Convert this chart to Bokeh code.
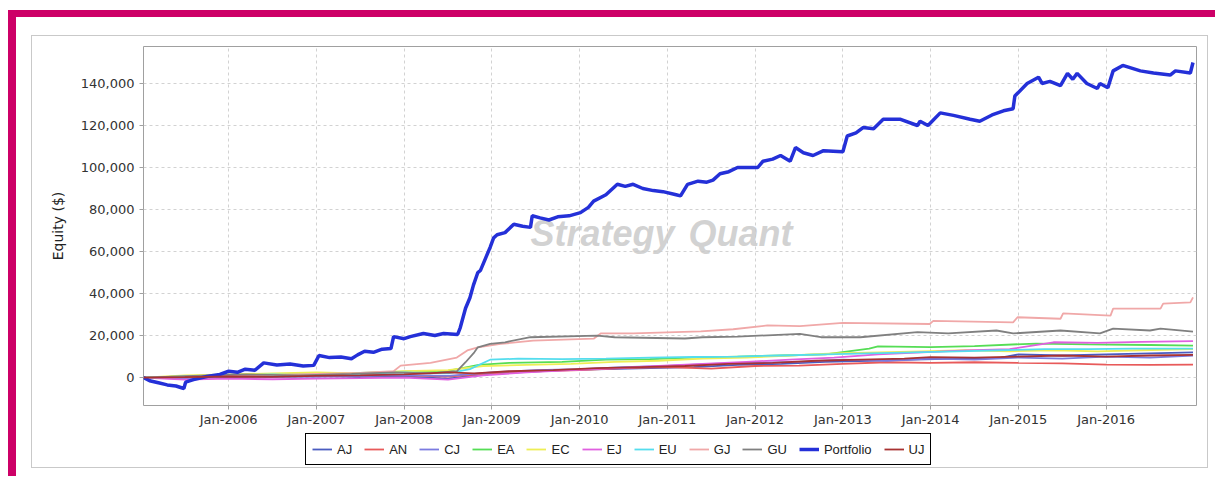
from bokeh.plotting import figure
from bokeh.models import Range1d, FixedTicker, NumeralTickFormatter, Legend, LegendItem, Label
from bokeh.layouts import column
from bokeh.embed import file_html
from bokeh.resources import INLINE

# ---------------- data ----------------
x_tick_years = [2006, 2007, 2008, 2009, 2010, 2011, 2012, 2013, 2014, 2015, 2016]
x_tick_labels = ["Jan-2006", "Jan-2007", "Jan-2008", "Jan-2009", "Jan-2010", "Jan-2011",
                 "Jan-2012", "Jan-2013", "Jan-2014", "Jan-2015", "Jan-2016"]
y_ticks = [0, 20000, 40000, 60000, 80000, 100000, 120000, 140000]

series_names = ["AJ", "AN", "CJ", "EA", "EC", "EJ", "EU", "GJ", "GU", "Portfolio", "UJ"]

years_AJ = [2005.03, 2005.5, 2006.0, 2006.5, 2007.0, 2007.5, 2008.0, 2008.5, 2008.9, 2009.3, 2009.8,
            2010.3, 2010.8, 2011.3, 2011.8, 2012.3, 2012.8, 2013.3, 2013.8, 2014.3, 2014.8, 2015.0,
            2015.5, 2016.0, 2016.5, 2016.99]
equity_AJ = [0, 500, 1000, 500, 800, 200, 500, -500, 1500, 2500, 3500,
             4000, 4500, 5000, 6000, 6500, 7500, 8000, 8500, 9000, 9500, 11000,
             10500, 11000, 11500, 12000]

years_AN = [2005.03, 2005.5, 2006.0, 2006.5, 2007.0, 2007.5, 2008.0, 2008.5, 2009.0, 2009.5, 2010.0,
            2010.5, 2011.0, 2011.5, 2012.0, 2012.5, 2013.0, 2013.5, 2014.0, 2014.5, 2015.0, 2015.5,
            2016.0, 2016.5, 2016.99]
equity_AN = [0, 300, 500, 800, 1000, 1200, 1000, 500, 2000, 3000, 3500,
             4500, 5000, 4300, 5500, 5700, 6500, 7300, 7000, 7300, 7000, 6800,
             6200, 6000, 6200]

years_CJ = [2005.03, 2005.5, 2006.0, 2006.5, 2007.0, 2007.5, 2008.0, 2008.5, 2009.0, 2009.5, 2010.0,
            2010.5, 2011.0, 2011.5, 2012.0, 2012.5, 2013.0, 2013.5, 2014.0, 2014.5, 2015.0, 2015.5,
            2016.0, 2016.5, 2016.99]
equity_CJ = [0, -500, 200, 500, 300, 800, 1200, 800, 2500, 3500, 4000,
             5000, 5500, 6500, 7000, 7500, 8500, 8000, 9000, 8500, 9500, 9000,
             10000, 9500, 10500]

years_EA = [2005.03, 2005.5, 2006.0, 2006.5, 2007.0, 2007.5, 2008.0, 2008.5, 2008.85, 2009.2, 2009.8,
            2010.3, 2010.8, 2011.3, 2011.8, 2012.3, 2012.8, 2013.3, 2013.4, 2014.0, 2014.5, 2015.2,
            2015.8, 2016.5, 2016.99]
equity_EA = [0, 500, 1200, 1800, 1500, 2200, 2800, 3200, 6000, 7000, 7500,
             8500, 8800, 9500, 10000, 10500, 11000, 13800, 14800, 14500, 15000, 16200,
             15800, 15500, 15200]

years_EC = [2005.03, 2005.5, 2006.0, 2006.5, 2007.0, 2007.5, 2008.0, 2008.5, 2008.9, 2009.4, 2009.9,
            2010.4, 2010.9, 2011.4, 2011.9, 2012.4, 2012.9, 2013.4, 2013.9, 2014.4, 2014.9, 2015.4,
            2015.9, 2016.4, 2016.99]
equity_EC = [0, 1000, 1500, 2000, 2500, 2000, 3000, 3500, 5500, 6000, 6500,
             7500, 8000, 9000, 9500, 10500, 11500, 12000, 12500, 13000, 12500, 13000,
             12500, 13000, 13500]

years_EJ = [2005.03, 2005.5, 2006.0, 2006.5, 2007.0, 2007.5, 2008.0, 2008.5, 2008.9, 2009.4, 2009.9,
            2010.4, 2010.9, 2011.4, 2011.9, 2012.4, 2012.9, 2013.4, 2013.9, 2014.4, 2014.9, 2015.4,
            2015.9, 2016.4, 2016.99]
equity_EJ = [0, -1000, -500, -800, -500, -300, 0, -1000, 1000, 2500, 3500,
             4500, 5500, 6500, 7500, 8500, 9500, 11000, 12000, 12900, 13500, 16800,
             16500, 17000, 17300]

years_EU = [2005.03, 2005.5, 2006.0, 2006.5, 2007.0, 2007.5, 2008.0, 2008.5, 2008.75, 2008.98, 2009.3,
            2009.8, 2010.3, 2010.8, 2011.3, 2011.8, 2012.3, 2012.8, 2013.3, 2013.8, 2014.3, 2014.8,
            2015.3, 2015.8, 2016.3, 2016.99]
equity_EU = [0, 500, 1000, 1500, 1000, 1800, 2500, 2000, 4000, 8500, 9000,
             8800, 9000, 9500, 9800, 10000, 10500, 11000, 11500, 12000, 12500, 13000,
             13500, 13500, 13800, 13800]

years_GJ = [2005.03, 2005.5, 2006.0, 2006.5, 2007.0, 2007.5, 2007.88, 2007.96, 2008.3, 2008.6, 2008.72,
            2008.84, 2009.10, 2009.47, 2010.16, 2010.24, 2010.61, 2011.38, 2011.75, 2012.14, 2012.51,
            2013.00, 2013.99, 2014.03, 2014.94, 2014.99, 2015.48, 2015.51, 2016.05, 2016.08, 2016.62,
            2016.65, 2016.96, 2016.99]
equity_GJ = [0, 300, 800, 1200, 1800, 2200, 3000, 5700, 7000, 9500, 12900,
             14400, 16000, 17600, 18500, 21000, 21000, 22000, 23000, 24800, 24500,
             26000, 25500, 27000, 26300, 28700, 28000, 30600, 29500, 32800, 32800,
             35200, 35800, 38200]

years_GU = [2005.03, 2005.6, 2006.2, 2006.8, 2007.4, 2007.9, 2008.3, 2008.6, 2008.70, 2008.80, 2008.84,
            2008.98, 2009.15, 2009.44, 2010.20, 2010.40, 2011.20, 2011.40, 2011.80, 2012.51, 2012.75,
            2013.20, 2013.85, 2014.20, 2014.75, 2014.94, 2015.48, 2015.93, 2016.08, 2016.50, 2016.62,
            2016.99]
equity_GU = [0, 800, 1500, 1000, 1800, 2500, 2000, 3000, 7300, 12000, 14400,
             16000, 16800, 19200, 20000, 19200, 18600, 19200, 19500, 20800, 19200,
             19200, 21600, 21000, 22400, 21000, 22400, 21000, 23300, 22400, 23300,
             21900]

years_Portfolio = [2005.03, 2005.10, 2005.20, 2005.30, 2005.40, 2005.49, 2005.51, 2005.60, 2005.75, 2005.90,
                   2006.00, 2006.10, 2006.19, 2006.30, 2006.40, 2006.55, 2006.70, 2006.85, 2006.97, 2007.03,
                   2007.15, 2007.28, 2007.40, 2007.47, 2007.55, 2007.65, 2007.75, 2007.85, 2007.88, 2008.00,
                   2008.07, 2008.22, 2008.35, 2008.45, 2008.61, 2008.64, 2008.70, 2008.75, 2008.79, 2008.84,
                   2008.87, 2008.93, 2008.98, 2009.02, 2009.06, 2009.15, 2009.25, 2009.35, 2009.44, 2009.46,
                   2009.55, 2009.65, 2009.75, 2009.88, 2010.01, 2010.10, 2010.16, 2010.30, 2010.43, 2010.52,
                   2010.61, 2010.72, 2010.84, 2010.95, 2011.10, 2011.15, 2011.23, 2011.35, 2011.45, 2011.52,
                   2011.60, 2011.70, 2011.80, 2012.03, 2012.09, 2012.20, 2012.29, 2012.40, 2012.46, 2012.55,
                   2012.66, 2012.78, 2013.00, 2013.05, 2013.15, 2013.23, 2013.35, 2013.46, 2013.65, 2013.85,
                   2013.88, 2013.97, 2014.11, 2014.26, 2014.45, 2014.56, 2014.70, 2014.83, 2014.94, 2014.96,
                   2015.10, 2015.23, 2015.27, 2015.36, 2015.48, 2015.56, 2015.62, 2015.67, 2015.78, 2015.90,
                   2015.93, 2016.02, 2016.08, 2016.19, 2016.39, 2016.54, 2016.73, 2016.79, 2016.96, 2016.99]
equity_Portfolio = [0, -1500, -2500, -3500, -4000, -5200, -2200, -1000, 500, 1500,
                    3000, 2500, 4000, 3500, 7000, 6000, 6500, 5500, 5800, 10500,
                    9500, 9800, 9000, 10800, 12500, 12000, 13500, 13800, 19500, 18500,
                    19500, 21000, 20000, 21000, 20500, 23800, 33000, 38000, 44000, 50000,
                    51000, 57000, 62000, 66500, 68000, 69000, 73000, 72000, 71500, 77000,
                    76000, 75000, 76500, 77000, 78500, 81000, 84000, 87000, 92000, 91000,
                    92000, 90000, 89000, 88500, 87000, 86500, 92000, 93500, 93000, 94000,
                    97000, 98000, 100000, 100000, 103000, 104000, 105700, 103000, 109500, 107000,
                    105700, 108000, 107500, 115000, 116500, 119000, 118500, 123000, 123000, 120000,
                    122000, 120000, 126000, 124800, 123000, 122000, 125000, 127000, 128000, 134000,
                    140000, 143000, 140000, 141000, 139000, 144800, 142000, 144800, 140000, 137600,
                    140000, 138000, 146000, 148600, 146000, 145000, 144000, 146000, 145000, 150000]

years_UJ = [2005.03, 2005.5, 2006.0, 2006.5, 2007.0, 2007.5, 2008.0, 2008.5, 2008.8, 2009.2, 2009.7,
            2010.2, 2010.7, 2011.2, 2011.7, 2012.2, 2012.7, 2013.2, 2013.7, 2014.0, 2014.5, 2015.0,
            2015.5, 2016.0, 2016.5, 2016.99]
equity_UJ = [0, 200, 500, 300, 800, 1000, 1500, 2500, 2000, 3000, 3500,
             4500, 5000, 5500, 6500, 7000, 8000, 8500, 9000, 9700, 9500, 10000,
             10500, 10000, 10500, 10800]

series_years = {"AJ": years_AJ, "AN": years_AN, "CJ": years_CJ, "EA": years_EA, "EC": years_EC,
                "EJ": years_EJ, "EU": years_EU, "GJ": years_GJ, "GU": years_GU,
                "Portfolio": years_Portfolio, "UJ": years_UJ}
series_equity = {"AJ": equity_AJ, "AN": equity_AN, "CJ": equity_CJ, "EA": equity_EA, "EC": equity_EC,
                 "EJ": equity_EJ, "EU": equity_EU, "GJ": equity_GJ, "GU": equity_GU,
                 "Portfolio": equity_Portfolio, "UJ": equity_UJ}

# ---------------- styles ----------------
colors = {"AJ": "#4a5cc0", "AN": "#e85a5a", "CJ": "#7b7be0", "EA": "#55dd55", "EC": "#eeee55",
          "EJ": "#e060e0", "EU": "#55ddee", "GJ": "#f0a8a8", "GU": "#808080",
          "Portfolio": "#2430d8", "UJ": "#a83232"}
widths = {name: 1.8 for name in series_names}
widths["Portfolio"] = 3.5

# main chart
p = figure(width=1175, height=394,
           x_range=Range1d(2005.03, 2017.03), y_range=Range1d(-13300, 157600),
           output_backend="svg", toolbar_location=None,
           min_border_left=111, min_border_right=11, min_border_top=10, min_border_bottom=25,
           background_fill_color="white", border_fill_color="white",
           outline_line_color="#a0a0a0")

# watermark
for txt, xx in (("Strategy", 2009.44), ("Quant", 2011.24)):
    p.add_layout(Label(x=xx, y=68600, text=txt, text_font="Liberation Sans",
                       text_font_style="bold italic", text_font_size="36px",
                       text_color="#cacaca", text_alpha=0.85, text_baseline="alphabetic",
                       level="underlay"))

for name in series_names:
    p.line(series_years[name], series_equity[name], line_color=colors[name],
           line_width=widths[name])

p.yaxis.ticker = FixedTicker(ticks=y_ticks)
p.yaxis.formatter = NumeralTickFormatter(format="0,0")
p.yaxis.axis_label = "Equity ($)"
p.yaxis.axis_label_text_font = "DejaVu Sans"
p.yaxis.axis_label_text_font_size = "14px"
p.yaxis.axis_label_text_font_style = "normal"
p.yaxis.axis_label_text_color = "#222222"
p.yaxis.axis_label_standoff = 12
p.xaxis.ticker = FixedTicker(ticks=x_tick_years)
p.xaxis.major_label_overrides = dict(zip(x_tick_years, x_tick_labels))
p.axis.major_label_text_font = "DejaVu Sans"
p.axis.major_label_text_font_size = "13px"
p.axis.major_label_text_color = "#333333"
p.yaxis.major_label_standoff = 5
p.xaxis.major_label_standoff = 2
p.axis.axis_line_color = None
p.axis.major_tick_line_color = "#a0a0a0"
p.axis.major_tick_out = 4
p.axis.major_tick_in = 0
p.axis.minor_tick_line_color = None

p.grid.grid_line_color = "#d2d2d2"
p.grid.grid_line_dash = "3 3"
p.grid.grid_line_width = 1

# legend strip (own small figure under the chart; its lines fall outside its 0..1 ranges)
pl = figure(width=1175, height=37, x_range=Range1d(0, 1), y_range=Range1d(0, 1),
            output_backend="svg", toolbar_location=None,
            x_axis_type=None, y_axis_type=None,
            min_border_left=0, min_border_right=0, min_border_top=0, min_border_bottom=0,
            background_fill_color="white", border_fill_color="white", outline_line_color=None)
items = []
for name in series_names:
    r = pl.line(series_years[name], series_equity[name], line_color=colors[name],
                line_width=widths[name] if name == "Portfolio" else 1.8)
    items.append(LegendItem(label=name, renderers=[r]))
legend = Legend(items=items, orientation="horizontal", location=(162, 2),
                border_line_color="black", border_line_width=1, border_line_alpha=1.0,
                label_text_font="Liberation Sans", label_text_font_size="13px",
                label_text_color="#222222",
                glyph_width=20, glyph_height=18, label_height=18, label_width=0,
                label_standoff=5, spacing=12, padding=6, margin=0)
pl.add_layout(legend, "center")

inner = column(p, pl, styles={"border": "1px solid #c9c9c9"})
outer = column(inner, styles={"margin-left": "8px", "margin-top": "10px",
                              "border-top": "7px solid #cd0067",
                              "border-left": "8px solid #cd0067",
                              "padding": "18px 7px 8px 15px", "background-color": "white"})

open("out.html", "w").write(file_html(outer, INLINE))
